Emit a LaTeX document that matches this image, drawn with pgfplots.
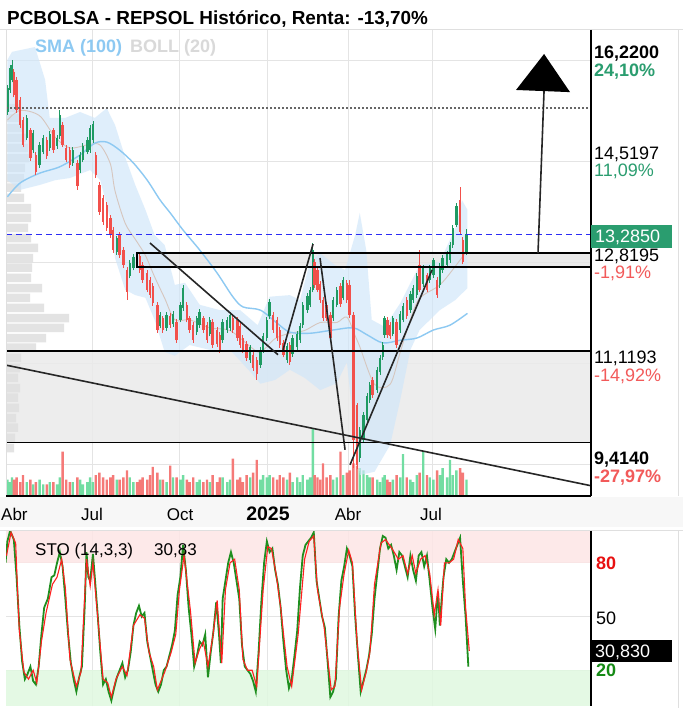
\documentclass[border=0pt]{standalone}
\usepackage{fontspec}
\setmainfont{Liberation Sans}
\usepackage{pgfplots}
\pgfplotsset{compat=1.18}
\usepackage{pgfplotstable}

\definecolor{cgreen}{HTML}{1E9A62}
\definecolor{cred}{HTML}{F2504B}
\definecolor{vgreen}{HTML}{72DDA2}
\definecolor{vred}{HTML}{F57A78}
\definecolor{smablue}{HTML}{8DC9F2}
\definecolor{bandblue}{HTML}{CFE6FA}
\definecolor{bollmid}{HTML}{D6C6BE}
\definecolor{zonegray}{HTML}{EBEBEB}
\definecolor{gridgray}{HTML}{E4E4E4}
\definecolor{profgray}{HTML}{E0E0E0}
\definecolor{lblgreen}{HTML}{2A9D6F}
\definecolor{lblred}{HTML}{F25A5A}
\definecolor{dashblue}{HTML}{2B2BF5}
\definecolor{stogreen}{HTML}{1F8F1F}
\definecolor{stored}{HTML}{FF2020}
\definecolor{pinkzone}{HTML}{FDE6E6}
\definecolor{greenzone}{HTML}{E0F8E0}
\definecolor{bollgray}{HTML}{D9D9D9}
\definecolor{label80}{HTML}{E81010}
\definecolor{label20}{HTML}{158A15}

\newcommand\fs[1]{\fontsize{#1bp}{#1bp}\selectfont}

% candles: day (from 1 Apr 2024), open, high, low, close, volume (M)
\pgfplotstableread{
d o h l c v
-5 15.57 16.08 15.52 16.02 7
-2 15.98 16.45 15.93 16.39 6
0 16.17 16.54 16.12 16.45 8
16 15.09 15.51 15.04 15.46 6
23 14.86 15.23 14.81 15.18 5
30 14.58 15.01 14.53 14.96 7
34 14.83 15.14 14.78 15.09 5
41 14.90 15.21 14.85 15.16 6
49 14.94 15.14 14.89 15.09 5
52 15.12 15.61 15.07 15.51 8
66 14.62 14.91 14.57 14.86 6
74 14.49 14.82 14.44 14.77 7
77 14.68 14.99 14.63 14.94 5
82 14.83 15.10 14.78 15.05 6
85 14.86 15.32 14.81 15.27 8
88 15.05 15.40 15.00 15.35 6
114 12.96 13.27 12.91 13.22 7
128 12.52 12.81 12.47 12.76 8
132 12.67 12.92 12.62 12.87 6
161 11.59 11.84 11.54 11.79 7
168 11.55 11.84 11.50 11.79 6
175 11.62 11.86 11.57 11.81 8
183 11.70 12.03 11.65 11.98 7
186 11.92 12.34 11.87 12.29 9
201 11.47 11.78 11.42 11.73 6
204 11.60 11.90 11.55 11.85 7
215 11.44 11.75 11.39 11.70 6
229 11.32 11.71 11.27 11.66 8
234 11.51 11.75 11.46 11.70 6
237 11.55 11.84 11.50 11.79 7
259 10.95 11.24 10.90 11.19 8
270 10.86 11.19 10.81 11.14 7
273 11.14 11.45 11.09 11.40 9
277 11.36 11.75 11.31 11.70 8
280 11.77 12.08 11.72 12.03 9
299 10.95 11.26 10.90 11.21 7
305 11.06 11.41 11.01 11.36 6
310 11.19 11.49 11.14 11.44 8
313 11.32 11.64 11.27 11.59 6
316 11.60 12.03 11.55 11.98 9
321 11.88 12.19 11.83 12.14 7
324 11.98 12.31 11.93 12.26 8
327 12.26 13.13 12.21 13.00 29
349 11.73 12.12 11.68 12.07 7
353 11.98 12.31 11.93 12.26 8
360 12.11 12.49 12.06 12.44 9
378 9.13 9.70 9.05 9.65 12
382 9.46 9.98 9.41 9.93 11
386 9.83 10.33 9.78 10.28 9
389 10.21 10.54 10.16 10.49 8
397 10.39 10.82 10.34 10.77 7
400 10.73 11.04 10.68 10.99 6
403 11.01 11.28 10.96 11.23 8
405 11.42 11.78 11.37 11.73 9
414 11.44 11.78 11.39 11.73 7
422 11.51 11.86 11.46 11.81 8
425 11.70 12.01 11.65 11.96 18
433 11.88 12.23 11.83 12.18 7
436 12.07 12.34 12.02 12.29 6
440 12.16 12.57 12.11 12.52 9
447 12.37 12.72 12.32 12.67 19
454 12.44 12.72 12.39 12.67 8
458 12.53 12.86 12.48 12.81 7
465 12.35 12.75 12.30 12.70 9
468 12.63 12.90 12.58 12.85 12
473 12.72 12.98 12.67 12.93 8
476 12.81 13.14 12.76 13.09 15.5
479 13.09 13.46 13.04 13.41 9
483 13.47 13.87 13.42 13.82 11
494 12.96 13.39 12.91 13.29 7
}\greencand

\pgfplotstableread{
d o h l c v
2 16.32 16.37 15.84 15.89 7
5 16.17 16.22 15.56 15.61 8
9 15.79 15.84 15.28 15.33 6
12 15.42 15.47 14.91 14.96 9
20 15.23 15.28 14.66 14.71 7
26 14.77 14.82 14.40 14.45 6
38 15.05 15.10 14.70 14.75 5
45 15.23 15.28 14.81 14.86 6
55 15.33 15.38 14.91 14.96 19
59 14.90 14.95 14.63 14.68 7
63 14.86 14.91 14.53 14.58 6
71 14.62 14.67 14.12 14.19 8
91 14.77 14.82 14.35 14.40 9
95 14.21 14.26 13.66 13.71 10
99 13.97 14.02 13.47 13.52 8
103 13.84 13.89 13.36 13.41 7
107 13.60 13.65 13.23 13.28 8
110 13.37 13.42 12.95 13.00 9
117 13.28 13.33 12.86 12.91 7
121 13.00 13.05 12.67 12.72 8
125 12.63 12.68 12.07 12.22 11
136 12.85 12.90 12.67 12.72 6
139 12.89 12.94 12.58 12.63 7
142 12.72 12.77 12.39 12.44 8
147 12.57 12.62 12.21 12.26 7
150 12.44 12.49 12.11 12.16 9
153 12.33 12.38 11.96 12.01 12.5
158 11.98 12.03 11.46 11.51 10
164 11.73 11.78 11.46 11.51 7
172 11.77 11.82 11.55 11.60 13
179 11.66 11.71 11.27 11.32 8
190 11.98 12.03 11.65 11.70 7
193 11.73 11.78 11.46 11.51 6
197 11.60 11.65 11.27 11.32 8
208 11.73 11.78 11.46 11.51 6
212 11.60 11.65 11.27 11.32 7
218 11.66 11.71 11.18 11.23 9
223 11.51 11.56 11.20 11.25 6
226 11.42 11.47 11.09 11.14 8
240 11.73 11.78 11.46 11.51 16
245 11.70 11.75 11.31 11.36 7
248 11.59 11.64 11.18 11.23 8
251 11.36 11.41 11.09 11.14 6
255 11.25 11.30 10.94 10.99 9
262 11.05 11.10 10.75 10.80 10
266 10.95 11.00 10.58 10.69 15.5
284 11.79 11.84 11.46 11.51 8
288 11.70 11.75 11.31 11.36 7
291 11.51 11.56 11.18 11.23 9
295 11.27 11.32 11.00 11.05 8
302 11.23 11.28 10.86 10.91 10
329 12.78 12.83 12.30 12.35 9
332 12.63 12.68 12.21 12.26 8
335 12.37 12.42 12.02 12.07 7
338 12.07 12.12 11.68 11.73 14
342 11.98 12.03 11.68 11.73 8
346 11.79 11.84 11.31 11.36 9
357 12.33 12.38 11.94 11.99 19
364 12.39 12.44 12.02 12.07 10
367 12.35 12.44 11.74 11.79 11
371 11.79 11.84 8.94 9.46 14
375 10.11 10.16 8.92 9.00 13
392 10.58 10.63 10.25 10.30 8
408 11.70 11.75 11.37 11.42 7
411 11.60 11.65 11.35 11.40 6
418 11.66 11.71 11.18 11.23 9
429 12.07 12.12 11.72 11.77 8
443 12.72 13.00 12.21 12.26 10
451 12.53 12.58 12.21 12.26 9
462 12.44 12.49 12.11 12.16 11
487 13.93 14.17 13.29 13.34 12
490 13.19 13.24 12.73 12.78 10
}\redcand

\pgfplotstableread{
d p
-5 13.99
9 14.25
30 14.43
52 14.55
74 14.77
90 14.99
103 15.01
117 14.86
132 14.62
147 14.30
161 13.93
172 13.69
186 13.37
204 13.00
223 12.57
240 12.13
251 11.94
270 11.88
288 11.64
302 11.47
324 11.45
349 11.51
371 11.55
386 11.42
403 11.27
422 11.32
440 11.36
458 11.51
476 11.60
495 11.82
}\sma

% Bollinger envelope: upper band left to right, then lower band right to left
\pgfplotstableread{
d p
-5 16.54
0 16.69
25 16.78
36 16.17
41 15.46
58 15.46
74 15.57
90 15.46
103 15.64
112 15.33
123 14.73
134 14.21
145 13.75
155 13.28
166 13.09
177 12.35
188 12.39
204 11.98
226 11.88
248 11.88
267 11.60
280 12.13
302 12.16
313 12.07
324 12.78
335 12.94
351 12.72
362 12.63
373 13.28
378 13.69
385 13.00
391 11.70
405 11.57
422 12.01
443 12.72
465 12.78
482 13.41
489 13.93
495 13.75
495 12.29
482 12.07
465 11.88
443 11.51
433 11.14
422 10.21
411 9.37
394 8.87
378 8.81
373 9.46
364 10.91
353 10.52
335 10.39
318 10.62
302 10.77
286 10.58
270 10.51
259 10.73
237 11.14
215 11.14
193 11.23
177 11.03
166 11.10
155 11.70
145 12.11
134 12.16
123 12.26
112 12.85
107 13.56
96 14.30
85 14.49
63 14.34
47 14.30
30 14.21
9 14.12
-5 14.30
}\bollband

\pgfplotstableread{
d p
-5 15.42
9 15.60
30 15.50
47 15.10
63 14.90
85 14.97
96 14.95
107 14.60
112 14.10
123 13.50
134 13.20
145 12.90
155 12.50
166 12.10
177 11.70
193 11.70
215 11.55
237 11.50
259 11.20
270 11.10
286 11.35
302 11.45
318 11.50
335 11.65
353 11.65
364 11.75
373 11.40
378 11.20
394 10.50
411 10.50
422 11.10
433 11.70
443 12.10
465 12.35
482 12.70
495 13.00
}\bollmidt

% volume profile: price level, volume (width)
\pgfplotstableread{
p w
15.64 14
15.46 15
15.27 16
15.09 20
14.90 22
14.71 23
14.53 19
14.34 18
14.16 15
13.97 18
13.78 25
13.60 25
13.41 22
13.22 25
13.04 32
12.85 27
12.67 26
12.48 25
12.29 36
12.11 24
11.92 38
11.73 63
11.55 58
11.36 40
11.18 30
10.99 15
10.80 14
10.62 12
10.43 14
10.25 12
10.06 13
9.87 10
9.69 12
9.50 9
9.31 8
}\vprof

\pgfplotstableread{
d k
-7 80
-5 92
-2 98
2 93
5 72
8 45
11 25
14 15
17 18
20 22
23 14
26 12
29 22
32 40
35 55
39 60
43 72
46 73
49 80
52 86
55 78
58 60
61 40
64 24
67 15
70 8
73 16
76 22
79 55
81 86
83 72
85 70
88 85
90 72
93 52
96 30
99 12
102 15
105 8
108 3
111 10
114 16
117 20
120 24
123 16
126 20
129 30
132 45
135 52
138 56
141 50
144 52
147 36
150 28
153 20
156 12
159 8
162 12
165 20
168 22
171 28
174 34
177 42
180 62
183 72
186 90
189 76
192 55
195 40
198 22
201 28
204 36
207 34
210 40
213 16
216 30
219 42
222 58
225 40
227 24
229 60
232 70
235 80
238 86
241 80
244 70
247 60
250 34
253 22
256 20
259 18
262 14
265 8
268 30
271 58
274 80
277 92
280 86
283 88
286 76
289 68
292 55
295 36
298 20
301 10
304 15
307 28
310 42
313 66
316 84
319 90
322 92
325 94
328 97
331 70
334 60
337 50
340 44
343 25
346 5
349 8
352 15
355 50
358 70
361 78
364 88
367 84
370 78
373 50
376 28
379 8
382 14
385 20
388 28
391 40
394 60
397 74
400 88
403 95
406 94
409 88
412 90
415 84
418 76
421 86
424 84
427 78
430 72
433 84
436 76
439 70
442 84
445 86
448 78
451 84
454 70
457 55
460 43
463 64
465 45
467 60
469 72
472 82
475 80
478 82
481 86
484 90
487 94
490 70
493 50
496 22
}\stok

\pgfplotstableread{
d v
-6 84
-1 97
4 91
6 65
8 42
13 19
18 15
23 20
27 13
32 36
37 52
44 68
49 72
54 82
58 66
63 26
70 11
75 19
81 82
85 67
88 80
94 45
99 15
104 13
108 5
113 15
120 22
125 17
132 45
139 51
144 49
149 30
154 22
158 9
166 19
173 30
178 40
182 65
187 84
194 53
199 24
204 32
208 36
213 22
218 38
223 59
228 24
232 65
237 80
242 82
247 65
251 26
256 20
261 20
266 11
273 65
278 89
282 88
287 74
292 55
299 22
304 11
311 40
318 82
323 92
328 95
332 65
339 45
347 9
351 11
356 55
361 74
366 87
370 80
375 36
380 9
385 19
389 30
394 68
401 91
406 93
413 88
420 82
425 84
430 74
435 84
439 74
444 82
449 84
454 74
459 51
463 65
466 45
470 80
475 80
480 82
485 93
490 88
493 55
497 30.83
}\stod

\pgfplotsset{
  pricebox/.style={scale only axis, at={(6bp,212bp)}, anchor=south west,
    width=585bp, height=466bp, ymin=8.419, ymax=17.097},
  daysx/.style={xmin=-6.5, xmax=629.3},
}

\begin{document}
\begin{tikzpicture}
\path[use as bounding box] (0,0) rectangle (683bp,708bp);
\fill[white] (0,0) rectangle (683bp,708bp);
% date strip
\fill[gray!6] (0bp,181bp) rectangle (683bp,211bp);

% A: background grid and zones
\begin{axis}[pricebox, daysx,
  xtick={87,182.6,277.2,365.2,456.5}, ytick={9.00,10.88,12.76,14.64,16.52},
  xticklabels={}, yticklabels={}, grid=major,
  grid style={gridgray, line width=1bp},
  axis line style={draw=none}, major tick length=0pt]
  \addplot[draw=none, forget plot] coordinates {(0,10) (600,16)};
  \fill[zonegray, fill opacity=0.85] (axis cs:-6.5,9.414) rectangle (axis cs:629.3,11.1193);
  \fill[gray!20, fill opacity=0.8] (axis cs:135.9,12.684) rectangle (axis cs:629.3,12.945);
\end{axis}

% B: volume profile
\begin{axis}[pricebox, xmin=0, xmax=585, hide axis, xbar, bar width=8.5bp]
  \addplot[draw=none, fill=profgray, fill opacity=0.9, bar shift=0pt] table[x=w, y=p] {\vprof};
\end{axis}

% D: volume bars
\begin{axis}[pricebox, daysx, ymin=0, ymax=200, hide axis, ybar, bar width=2.4bp]
  \addplot[draw=none, fill=vgreen, bar shift=0pt] table[x=d, y=v] {\greencand};
  \addplot[draw=none, fill=vred, bar shift=0pt] table[x=d, y=v] {\redcand};
\end{axis}

% C: price
\begin{axis}[pricebox, daysx, hide axis]
  \addplot[fill=bandblue, fill opacity=0.65, draw=none] table[x=d, y=p] {\bollband};
  \addplot[bollmid, line width=0.9bp, smooth] table[x=d, y=p] {\bollmidt};
  \addplot[smablue, line width=1.4bp, smooth] table[x=d, y=p] {\sma};
  % wicks
  \addplot[cgreen, line width=0.9bp, quiver={u=0, v=\thisrow{h}-\thisrow{l}}] table[x=d, y=l] {\greencand};
  \addplot[cred, line width=0.9bp, quiver={u=0, v=\thisrow{h}-\thisrow{l}}] table[x=d, y=l] {\redcand};
  % bodies
  \addplot[cgreen, line width=2.4bp, quiver={u=0, v=\thisrow{c}-\thisrow{o}}] table[x=d, y=o] {\greencand};
  \addplot[cred, line width=2.4bp, quiver={u=0, v=\thisrow{c}-\thisrow{o}}] table[x=d, y=o] {\redcand};
  % levels
  \draw[gray!80!black, line width=1.3bp, dash pattern=on 2bp off 2bp] (axis cs:-6.5,15.645) -- (axis cs:629.3,15.645);
  \draw[dashblue, line width=1.4bp, dash pattern=on 6bp off 4bp] (axis cs:-6.5,13.285) -- (axis cs:629.3,13.285);
  \draw[black, line width=1.3bp] (axis cs:135.9,12.684) rectangle (axis cs:640,12.945);
  \draw[black, line width=1.3bp] (axis cs:-10,11.1193) -- (axis cs:640,11.1193);
  \draw[black, line width=1.3bp] (axis cs:-10,9.414) -- (axis cs:640,9.414);
  % trend lines
  \draw[black!85, line width=1.6bp] (axis cs:150,13.13) -- (axis cs:289.1,11.05);
  \draw[black!85, line width=1.6bp] (axis cs:294.6,11.14) -- (axis cs:327.2,13.11);
  \draw[black!85, line width=1.6bp] (axis cs:334.8,12.85) -- (axis cs:362,9.28);
  \draw[black!85, line width=1.6bp] (axis cs:367.4,9.00) -- (axis cs:456.5,12.63);
  \draw[black!85, line width=1.6bp] (axis cs:-7.6,10.86) -- (axis cs:629.3,8.61);
  \draw[black!85, line width=1.6bp] (axis cs:571.7,12.94) -- (axis cs:578.3,15.98);
  \fill[black] (axis cs:578.3,16.65) -- (axis cs:547.8,15.98) -- (axis cs:606.5,15.94) -- cycle;
\end{axis}

% E: stochastic
\begin{axis}[scale only axis, at={(6bp,2bp)}, anchor=south west, width=585bp, height=175.4bp,
  daysx, ymin=0, ymax=98,
  xtick={87,182.6,277.2,365.2,456.5}, ytick={20,50,80},
  xticklabels={}, yticklabels={}, grid=major,
  grid style={gridgray, line width=1bp},
  axis line style={draw=none}, major tick length=0pt]
  \fill[pinkzone, fill opacity=0.85] (axis cs:-6.5,80) rectangle (axis cs:629.3,98);
  \fill[greenzone, fill opacity=0.85] (axis cs:-6.5,0) rectangle (axis cs:629.3,20);
  \addplot[stogreen, line width=1.8bp] table[x=d, y=k] {\stok};
  \addplot[stored, line width=1.1bp] table[x=d, y=v] {\stod};
\end{axis}

\begin{scope}[x=1bp, y=1bp]
  % frames
  \draw[gray!25, line width=1bp] (0,678) -- (683,678);
  \draw[gray!25, line width=1bp] (6,678) -- (6,212);
  \draw[gray!25, line width=1bp] (678,678) -- (678,212);
  \draw[black, line width=1.2bp] (6,212) -- (591,212);
  \draw[black, line width=1.3bp] (591,678) -- (591,212);
  \draw[gray!25, line width=1bp] (0,177) -- (683,177);
  \draw[gray!25, line width=1bp] (678,177) -- (678,0);
  \draw[black, line width=1.3bp] (591,177) -- (591,2);

  % title and legend
  \node[anchor=base west, inner sep=0] at (7,683.5) {\fs{18.9}\bfseries PCBOLSA - REPSOL Histórico, Renta: -13,70\%};
  \node[anchor=base west, inner sep=0] at (35,655) {\fs{18}\bfseries\textcolor{smablue}{SMA (100)}};
  \node[anchor=base west, inner sep=0] at (130,655) {\fs{18}\bfseries\textcolor{bollgray}{BOLL (20)}};

  % right price labels
  \node[anchor=base west, inner sep=0] at (594,649.7) {\fs{18}\bfseries 16,2200};
  \node[anchor=base west, inner sep=0] at (594,631) {\fs{18}\bfseries\textcolor{lblgreen}{24,10\%}};
  \node[anchor=base west, inner sep=0] at (594,548) {\fs{18}14,5197};
  \node[anchor=base west, inner sep=0] at (594,531) {\fs{18}\textcolor{lblgreen}{11,09\%}};
  \fill[lblgreen] (591,460) rectangle (672,483);
  \node[anchor=base west, inner sep=0] at (595,465) {\fs{18}\textcolor{white}{13,2850}};
  \node[anchor=base west, inner sep=0] at (594,446) {\fs{18}12,8195};
  \node[anchor=base west, inner sep=0] at (594,429) {\fs{18}\textcolor{lblred}{-1,91\%}};
  \node[anchor=base west, inner sep=0] at (594,345) {\fs{18}11,1193};
  \node[anchor=base west, inner sep=0] at (594,327) {\fs{18}\textcolor{lblred}{-14,92\%}};
  \node[anchor=base west, inner sep=0] at (594,244) {\fs{18}\bfseries 9,4140};
  \node[anchor=base west, inner sep=0] at (594,226) {\fs{18}\bfseries\textcolor{lblred}{-27,97\%}};

  % date labels
  \node[anchor=base west, inner sep=0] at (1,188) {\fs{17}Abr};
  \node[anchor=base, inner sep=0] at (92,188) {\fs{17}Jul};
  \node[anchor=base, inner sep=0] at (180,188) {\fs{17}Oct};
  \node[anchor=base, inner sep=0] at (268,188) {\fs{19.5}\bfseries 2025};
  \node[anchor=base, inner sep=0] at (348,188) {\fs{17}Abr};
  \node[anchor=base, inner sep=0] at (431,188) {\fs{17}Jul};

  % stochastic labels
  \node[anchor=base west, inner sep=0] at (35,153) {\fs{17}STO (14,3,3)};
  \node[anchor=base west, inner sep=0] at (154,153) {\fs{17}30,83};
  \node[anchor=base west, inner sep=0] at (596,139) {\fs{18}\bfseries\textcolor{label80}{80}};
  \node[anchor=base west, inner sep=0] at (596,84) {\fs{18}50};
  \node[anchor=base west, inner sep=0] at (596,32) {\fs{18}\bfseries\textcolor{label20}{20}};
  \fill[black] (591,46) rectangle (672,68);
  \node[anchor=base west, inner sep=0] at (595,51) {\fs{18}\textcolor{white}{30,830}};
\end{scope}
\end{tikzpicture}
\end{document}
